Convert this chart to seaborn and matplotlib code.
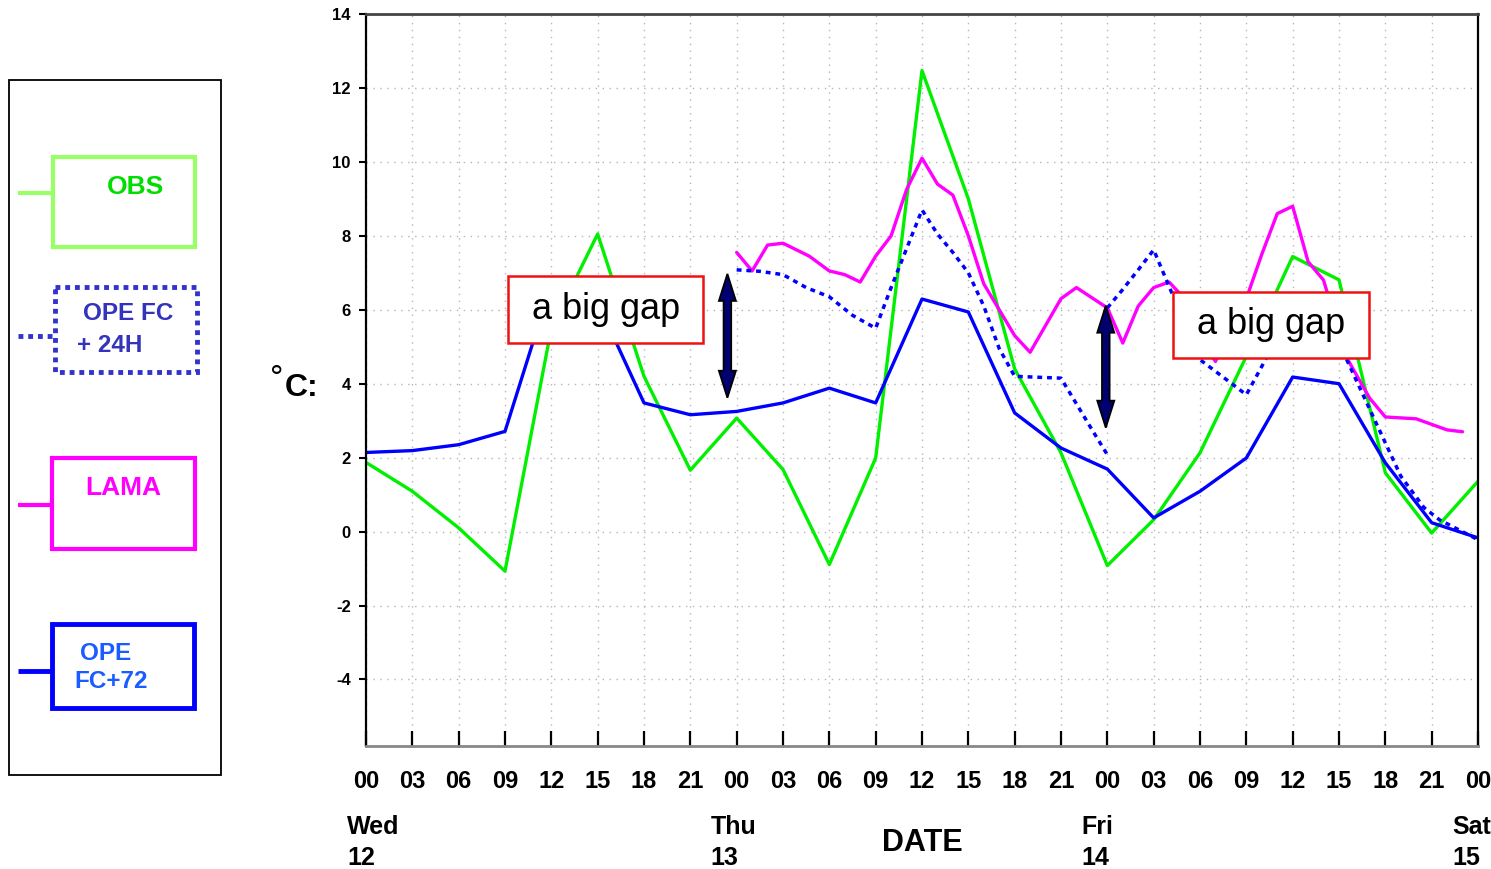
import matplotlib
matplotlib.use("Agg")

import matplotlib.pyplot as plt
import matplotlib.transforms as mtransforms
from matplotlib.patches import Rectangle, Polygon
import seaborn as sns
import pandas as pd
import numpy as np

# =========================================================
# DATA (hours since Wed 12 00 UTC, temperatures in degC)
# =========================================================

hours_3h = list(range(0, 73, 3))

obs = [1.87, 1.09, 0.10, -1.07, 5.50, 8.05, 4.20, 1.66, 3.07, 1.68, -0.89, 1.99,
       12.47, 9.00, 4.40, 2.13, -0.92, 0.32, 2.13, 4.74, 7.44, 6.81, 1.59, -0.04, 1.36]

ope_fc72 = [2.14, 2.19, 2.35, 2.71, 6.70, 6.20, 3.48, 3.16, 3.25, 3.48, 3.88, 3.48,
            6.29, 5.94, 3.21, 2.26, 1.69, 0.37, 1.09, 1.99, 4.18, 4.00, 1.86, 0.24, -0.17]

lama_hours = [24, 25, 26, 27, 28.7, 30, 31, 32, 33, 34, 35, 36, 37, 38, 39, 40, 42, 43,
              45, 46, 48, 49, 50, 51, 52, 53, 54, 55, 56, 57, 58, 59, 60, 61, 62, 63.5,
              65, 66, 68, 69, 70, 71]
lama = [7.55, 7.05, 7.75, 7.80, 7.45, 7.05, 6.95, 6.75, 7.45, 8.00, 9.25, 10.10, 9.40,
        9.10, 8.00, 6.70, 5.30, 4.85, 6.30, 6.60, 6.05, 5.10, 6.10, 6.60, 6.75, 6.30,
        5.30, 4.60, 5.50, 6.30, 7.50, 8.60, 8.80, 7.30, 6.80, 4.70, 3.60, 3.10, 3.05,
        2.90, 2.75, 2.70]

# OPE FC +24H, two forecast runs
fc24_run1_hours = [24, 25.5, 27, 28.5, 30, 31.5, 33, 34, 36, 37, 38, 39, 40, 41, 42, 45, 47, 48]
fc24_run1 = [7.08, 7.04, 6.95, 6.60, 6.35, 5.85, 5.50, 6.60, 8.70, 8.05, 7.55, 7.00,
             6.10, 4.95, 4.20, 4.15, 2.76, 2.08]
fc24_run2_hours = [48, 49, 50, 51, 54, 56, 57, 60, 61.5, 63.5, 66, 67, 68.5, 69.5, 72]
fc24_run2 = [6.05, 6.55, 7.08, 7.62, 4.65, 4.02, 3.70, 6.00, 6.20, 4.65, 2.40, 1.50,
             0.65, 0.32, -0.22]

tick_labels = ["00", "03", "06", "09", "12", "15", "18", "21"] * 3 + ["00"]
day_hours = [0, 24, 48, 72]
day_labels = ["Wed\n12", "Thu\n13", "Fri\n14", "Sat\n15"]

legend_labels = ["OBS", "OPE FC\n+ 24H", "LAMA", "OPE\nFC+72"]

# gap annotations: (hour of arrow, top, bottom)
gap_arrows = [(23.4, 6.97, 3.62), (47.9, 6.11, 2.81)]

# =========================================================
# STYLE
# =========================================================

sns.set_style("white")
plt.rcParams["font.family"] = ["Liberation Sans", "DejaVu Sans"]
plt.rcParams["text.color"] = "black"

W, H = 1491, 869
fig = plt.figure(figsize=(W / 100, H / 100), dpi=100)

ax = fig.add_axes([366 / W, 1 - 746 / H, (1478 - 366) / W, (746 - 14) / H])

# =========================================================
# LINES
# =========================================================

green = "#00f000"
sns.lineplot(x=hours_3h, y=obs, color=green, lw=2.4, ax=ax, sort=False, estimator=None)
sns.lineplot(x=lama_hours, y=lama, color="#ff00ff", lw=2.4, ax=ax, sort=False, estimator=None)
for hh, vv in [(fc24_run1_hours, fc24_run1), (fc24_run2_hours, fc24_run2)]:
    sns.lineplot(x=hh, y=vv, color="#0000ff", lw=2.5, ax=ax, sort=False,
                 estimator=None, linestyle=(0, (1.4, 1.4)))
sns.lineplot(x=hours_3h, y=ope_fc72, color="#0000ff", lw=2.4, ax=ax, sort=False, estimator=None)

ax.set_xlim(0, 72)
ax.set_ylim(-5.8, 14)

ax.set_xticks(hours_3h)
ax.set_xticklabels(tick_labels, fontsize=17, fontweight="bold")
ax.set_yticks(range(-4, 15, 2))
ax.set_yticklabels([str(v) for v in range(-4, 15, 2)], fontsize=12, fontweight="bold")

ax.tick_params(axis="x", direction="in", length=11, width=1.6, pad=17,
               colors="black", bottom=True)
ax.tick_params(axis="y", direction="out", length=5, width=1.5, pad=6,
               colors="black", left=True)

ax.grid(True, color="#b5b5b5", lw=1.0, linestyle=(0, (1, 4)))
ax.set_xlabel("")
ax.set_ylabel("")

for side, col, lw in [("left", "black", 1.6), ("right", "black", 1.6),
                      ("top", "#444444", 2.0), ("bottom", "#888888", 2.0)]:
    ax.spines[side].set_visible(True)
    ax.spines[side].set_color(col)
    ax.spines[side].set_linewidth(lw)

# =========================================================
# GAP ANNOTATIONS
# =========================================================

boxes = [(9.2, 21.83, 5.11, 6.92), (52.27, 64.96, 4.70, 6.49)]
for x0, x1, y0, y1 in boxes:
    ax.add_patch(Rectangle((x0, y0), x1 - x0, y1 - y0, facecolor="white",
                           edgecolor="#ee1111", lw=1.8, zorder=5))
    ax.text((x0 + x1) / 2, (y0 + y1) / 2, "a big gap", fontsize=26,
            ha="center", va="center", color="black", zorder=6)

# double headed arrows (sizes in pixels, converted to data units)
px_h = 72 / (1478 - 366)
px_v = 19.8 / (746 - 14)
hw, sw, hl = 8.5 * px_h, 3.8 * px_h, 27 * px_v
for hx, top, bot in gap_arrows:
    pts = [(hx, top), (hx + hw, top - hl), (hx + sw, top - hl), (hx + sw, bot + hl),
           (hx + hw, bot + hl), (hx, bot), (hx - hw, bot + hl), (hx - sw, bot + hl),
           (hx - sw, top - hl), (hx - hw, top - hl)]
    ax.add_patch(Polygon(pts, closed=True, facecolor="#000070", edgecolor="black",
                         lw=1.3, zorder=7))

# day labels under the hour labels
for hx, lab in zip(day_hours, day_labels):
    off = mtransforms.offset_copy(ax.get_xaxis_transform(), fig=fig,
                                  x=-26 if hx > 0 else -19, y=-69, units="dots")
    ax.text(hx, 0, lab, transform=off, ha="left", va="top", fontsize=18,
            fontweight="bold", linespacing=1.35, clip_on=False)

# =========================================================
# OVERLAY (legend panel, axis titles)
# =========================================================

ov = fig.add_axes([0, 0, 1, 1], zorder=10)
ov.set_xlim(0, W)
ov.set_ylim(H, 0)
ov.axis("off")

ov.text(922, 843, "DATE", fontsize=22, fontweight="bold", ha="center", va="center")
ov.text(277, 388, "°", fontsize=24, ha="center", va="baseline")
ov.text(302, 388, "C:", fontsize=23, fontweight="bold", ha="center", va="center")

ov.add_patch(Rectangle((9, 80), 212, 695, facecolor="none", edgecolor="black", lw=1.3))

legend_items = [
    dict(box=(53, 157, 142, 90), ec="#99ff66", ls="-", lw=3.0, tc="#00dd00",
         stub_y=193, txt=[(135, 187)], fs=19),
    dict(box=(55, 287, 142, 85), ec="#3333cc", ls=(0, (1, 1)), lw=3.5, tc="#3333bb",
         stub_y=336, txt=[(128, 314), (110, 346)], fs=17.5),
    dict(box=(52, 458, 143, 91), ec="#ff00ff", ls="-", lw=3.0, tc="#ff00ff",
         stub_y=505, txt=[(123, 488)], fs=19),
    dict(box=(52, 624, 142, 84), ec="#0000ff", ls="-", lw=3.5, tc="#1a5cff",
         stub_y=671, txt=[(106, 653), (111, 681)], fs=17.5),
]

for item, label in zip(legend_items, legend_labels):
    bx, by, bw, bh = item["box"]
    ov.add_patch(Rectangle((bx, by), bw, bh, facecolor="none", edgecolor=item["ec"],
                           lw=item["lw"], linestyle=item["ls"]))
    ov.plot([18, bx], [item["stub_y"]] * 2, color=item["ec"], lw=item["lw"],
            linestyle=item["ls"], solid_capstyle="butt")
    for (tx, ty), part in zip(item["txt"], label.split("\n")):
        ov.text(tx, ty, part, fontsize=item["fs"], fontweight="bold", color=item["tc"],
                ha="center", va="center")

fig.savefig("out.png", dpi=100)
plt.close(fig)
